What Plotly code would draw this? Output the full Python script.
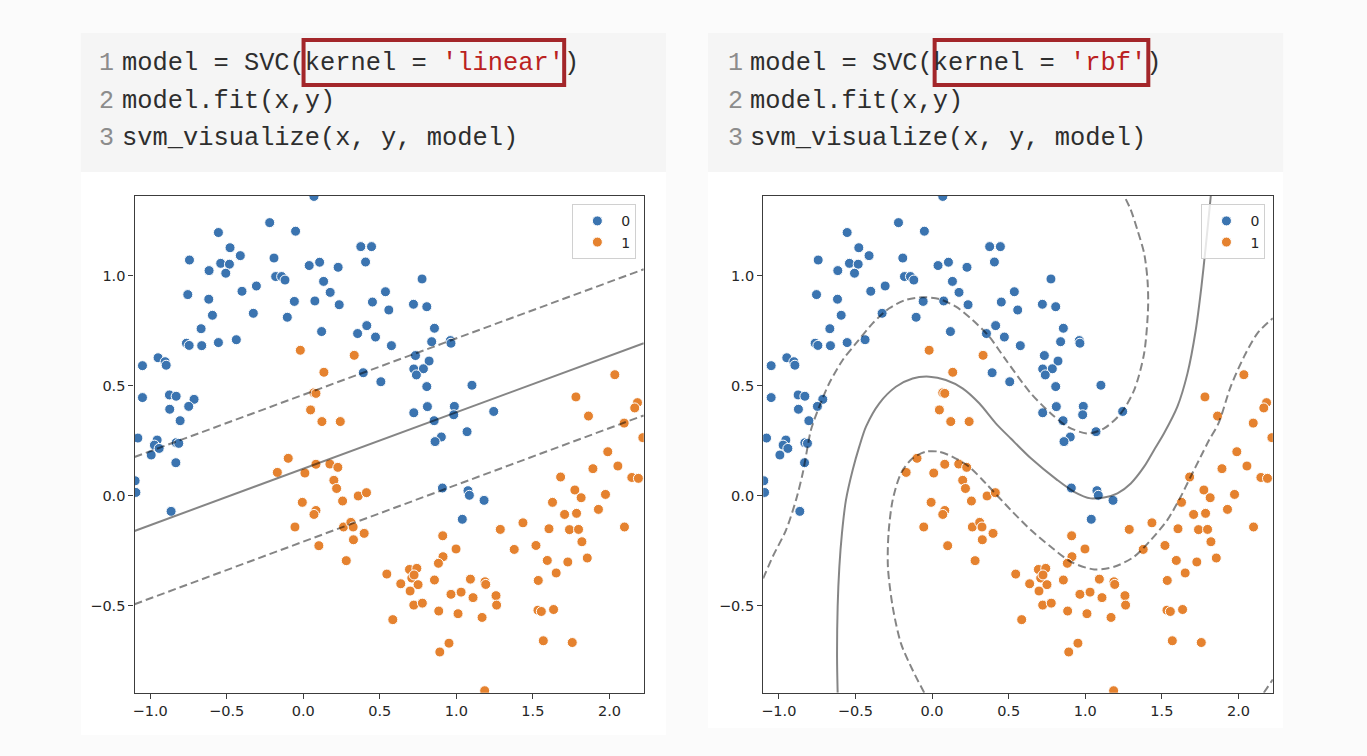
import plotly.graph_objects as go

W, H = 1367, 756

# ---------------- data ----------------
blue_x = [0.070, -0.219, -0.554, -0.050, -0.478, -0.411, -0.743, -0.191, -0.539, -0.482,
          -0.615, -0.506, -0.180, -0.141, -0.119, 0.039, 0.107, 0.228, 0.376, 0.133,
          0.176, 0.235, 0.076, -0.058, -0.104, -0.306, -0.400, -0.754, -0.617, -0.593,
          -0.326, -0.667, -0.437, -0.554, -0.663, -0.763, -0.745, 0.120, 0.355, -0.948,
          -1.050, -0.902, -0.895, -1.050, -0.874, -0.830, -0.713, -0.872, -0.748, -0.804,
          -1.080, -0.954,
          0.446, 0.407, 0.776, 0.537, 0.452, 0.720, 0.807, 0.559, 0.415, 0.857,
          0.472, 0.839, 0.961, 0.965, 0.576, 0.733, 0.822, 0.722, 0.785, 0.739,
          0.392, 0.507, 0.807, 1.102, 0.811, 0.722, 0.987, 0.983, 0.855, 1.244,
          1.070, 0.902,
          -0.972, -0.941, -0.993, -0.830, -0.813, -0.832, -1.098, -1.093, -0.863,
          0.861, 0.909, 1.076, 1.085, 1.181, 1.039]
blue_y = [1.360, 1.241, 1.196, 1.202, 1.127, 1.091, 1.071, 1.080, 1.056, 1.052,
          1.023, 1.011, 0.996, 0.996, 0.980, 1.046, 1.061, 1.038, 1.132, 0.974,
          0.924, 0.868, 0.885, 0.883, 0.811, 0.953, 0.929, 0.914, 0.893, 0.820,
          0.829, 0.759, 0.709, 0.696, 0.682, 0.693, 0.683, 0.746, 0.737, 0.627,
          0.591, 0.609, 0.593, 0.446, 0.458, 0.452, 0.438, 0.393, 0.406, 0.341,
          0.262, 0.253,
          1.132, 1.062, 0.985, 0.927, 0.880, 0.870, 0.859, 0.844, 0.773, 0.761,
          0.721, 0.700, 0.705, 0.693, 0.682, 0.637, 0.612, 0.576, 0.577, 0.549,
          0.559, 0.518, 0.496, 0.502, 0.405, 0.377, 0.406, 0.368, 0.341, 0.383,
          0.291, 0.267,
          0.230, 0.215, 0.185, 0.241, 0.238, 0.150, 0.068, 0.015, -0.071,
          0.246, 0.035, 0.023, 0.002, -0.021, -0.107]

orange_x = [-0.019, 0.333, 0.135, 0.070, 0.083, 0.048, 0.122, 0.242,
            2.035, 1.781, 1.863, 2.183, 2.165, 2.096, 2.218,
            -0.098, -0.169, 0.011, 0.083, 0.174, 0.226, 0.200, 0.218, 0.257, 0.359,
            -0.006, 0.083, 0.070, -0.054, 0.102, 0.263, 0.311, 0.326, 0.328, 0.281,
            1.989, 1.892, 2.055, 2.146, 2.189, 0.413, 0.398,
            1.681, 1.774, 1.815, 1.628, 1.974, 1.928, 1.707, 1.785, 1.435, 1.287,
            1.605, 1.739, 1.798, 2.098, 1.820, 1.520, 1.378, 1.594, 1.728, 1.855,
            1.652, 1.535,
            0.911, 0.998, 0.913, 0.883, 0.694, 0.742, 0.709, 0.724, 0.546, 0.637,
            0.750, 0.857, 1.092, 1.187, 1.192, 0.698, 0.965, 1.031, 1.109, 1.259,
            1.263, 0.722, 0.778, 0.885, 1.011, 1.168, 0.585, 1.533, 1.555, 1.635,
            1.568, 1.757, 0.952, 0.892, 1.185]
orange_y = [0.661, 0.638, 0.561, 0.468, 0.465, 0.390, 0.337, 0.337,
            0.550, 0.449, 0.362, 0.423, 0.399, 0.330, 0.264,
            0.170, 0.106, 0.103, 0.143, 0.144, 0.129, 0.070, 0.033, -0.024, -0.001,
            -0.030, -0.067, -0.085, -0.142, -0.227, -0.142, -0.121, -0.142, -0.200, -0.295,
            0.200, 0.123, 0.135, 0.083, 0.079, 0.014, -0.171,
            0.085, 0.026, -0.009, -0.030, 0.006, -0.062, -0.085, -0.080, -0.123, -0.153,
            -0.150, -0.154, -0.153, -0.142, -0.209, -0.226, -0.244, -0.294, -0.301, -0.283,
            -0.351, -0.385,
            -0.182, -0.242, -0.277, -0.307, -0.335, -0.330, -0.374, -0.360, -0.356, -0.400,
            -0.404, -0.383, -0.379, -0.391, -0.403, -0.433, -0.448, -0.438, -0.463, -0.454,
            -0.497, -0.497, -0.488, -0.524, -0.536, -0.553, -0.563, -0.520, -0.526, -0.517,
            -0.659, -0.667, -0.670, -0.710, -0.886]

class_labels = ["0", "1"]

x_range = [-1.102, 2.224]
y_range = [-0.895, 1.362]
x_ticks = [-1.0, -0.5, 0.0, 0.5, 1.0, 1.5, 2.0]
x_tick_labels = ["\u22121.0", "\u22120.5", "0.0", "0.5", "1.0", "1.5", "2.0"]
y_ticks = [-0.5, 0.0, 0.5, 1.0]
y_tick_labels = ["\u22120.5", "0.0", "0.5", "1.0"]

# linear kernel: decision line and margins (endpoints at axis edges)
lin_x = [-1.102, 2.224]
lin_mid_y = [-0.160, 0.693]
lin_up_y = [0.176, 1.029]
lin_lo_y = [-0.493, 0.365]

# rbf kernel: contour levels
rbf_mid_x = [-0.616, -0.620, -0.616, -0.605, -0.588, -0.562, -0.518, -0.475, -0.431, -0.344,
             -0.236, -0.127, -0.018, 0.090, 0.199, 0.308, 0.416, 0.514, 0.645, 0.818,
             0.927, 1.036, 1.123, 1.210, 1.297, 1.384, 1.449, 1.514, 1.601, 1.667,
             1.721, 1.758, 1.786, 1.808, 1.819]
rbf_mid_y = [-0.895, -0.732, -0.504, -0.323, -0.171, -0.020, 0.117, 0.223, 0.314, 0.420,
             0.495, 0.533, 0.541, 0.526, 0.488, 0.420, 0.329, 0.260, 0.170, 0.071,
             0.018, -0.012, -0.008, 0.011, 0.056, 0.132, 0.208, 0.284, 0.405, 0.556,
             0.753, 0.950, 1.132, 1.283, 1.362]

rbf_up_x = [-1.102, -1.040, -0.953, -0.888, -0.844, -0.812, -0.790, -0.736, -0.671, -0.583,
            -0.497, -0.388, -0.279, -0.171, -0.062, 0.047, 0.156, 0.264, 0.373, 0.482,
            0.645, 0.775, 0.884, 1.014, 1.123, 1.232, 1.319, 1.384, 1.410, 1.406,
            1.384, 1.340, 1.297, 1.254]
rbf_up_y = [-0.376, -0.277, -0.156, -0.020, 0.102, 0.223, 0.300, 0.405, 0.511, 0.617,
            0.692, 0.783, 0.852, 0.890, 0.902, 0.894, 0.859, 0.799, 0.723, 0.617,
            0.465, 0.374, 0.314, 0.283, 0.306, 0.374, 0.480, 0.647, 0.859, 0.980,
            1.102, 1.208, 1.299, 1.362]

rbf_lo_x = [-0.051, -0.127, -0.203, -0.257, -0.288, -0.284, -0.257, -0.203, -0.127, -0.040,
            0.047, 0.134, 0.242, 0.351, 0.514, 0.645, 0.775, 0.906, 1.058, 1.188,
            1.319, 1.428, 1.536, 1.623, 1.688, 1.753, 1.808, 1.870, 1.949, 2.036,
            2.123, 2.224]
rbf_lo_y = [-0.895, -0.792, -0.671, -0.504, -0.323, -0.171, -0.020, 0.102, 0.170, 0.200,
            0.200, 0.177, 0.132, 0.056, -0.065, -0.156, -0.232, -0.300, -0.335, -0.323,
            -0.277, -0.201, -0.110, -0.004, 0.087, 0.177, 0.253, 0.330, 0.496, 0.632,
            0.738, 0.807]

rbf_corner_x = [2.165, 2.224]
rbf_corner_y = [-0.895, -0.835]

code_left = ["model = SVC(kernel = <span style='color:#ba2121'>'linear'</span>)",
             "model.fit(x,y)",
             "svm_visualize(x, y, model)"]
code_right = ["model = SVC(kernel = <span style='color:#ba2121'>'rbf'</span>)",
              "model.fit(x,y)",
              "svm_visualize(x, y, model)"]
line_numbers = ["1", "2", "3"]

# ---------------- styling ----------------
BLUE = "#3b74b0"
ORANGE = "#e5822f"
LINE = "rgba(0,0,0,0.48)"
TICKFONT = dict(family="DejaVu Sans", size=14.5, color="#262626")


def PX(px):
    return px / W


def PY(py):
    return 1 - py / H


fig = go.Figure()

for xa, ya, lg in [("x", "y", "legend"), ("x2", "y2", "legend2")]:
    fig.add_trace(go.Scatter(x=blue_x, y=blue_y, mode="markers", name=class_labels[0],
                             xaxis=xa, yaxis=ya, legend=lg,
                             marker=dict(color=BLUE, size=10, line=dict(color="white", width=1))))
    fig.add_trace(go.Scatter(x=orange_x, y=orange_y, mode="markers", name=class_labels[1],
                             xaxis=xa, yaxis=ya, legend=lg,
                             marker=dict(color=ORANGE, size=10, line=dict(color="white", width=1))))

# linear kernel lines
for yy, dash in [(lin_up_y, "8px,4px"), (lin_mid_y, "solid"), (lin_lo_y, "8px,4px")]:
    fig.add_trace(go.Scatter(x=lin_x, y=yy, mode="lines", showlegend=False, hoverinfo="skip",
                             xaxis="x", yaxis="y", line=dict(color=LINE, width=2, dash=dash)))

# rbf kernel contours
for xx, yy, dash in [(rbf_up_x, rbf_up_y, "8px,4px"), (rbf_mid_x, rbf_mid_y, "solid"),
                     (rbf_lo_x, rbf_lo_y, "8px,4px"), (rbf_corner_x, rbf_corner_y, "8px,4px")]:
    fig.add_trace(go.Scatter(x=xx, y=yy, mode="lines", showlegend=False, hoverinfo="skip",
                             xaxis="x2", yaxis="y2",
                             line=dict(color=LINE, width=2, dash=dash, shape="spline", smoothing=0.8)))

axis_common = dict(showgrid=False, zeroline=False, showline=True, mirror=True,
                   linecolor="#3c3c3c", linewidth=1.3, ticks="outside", ticklen=5,
                   tickwidth=1.2, tickcolor="#3c3c3c", tickfont=TICKFONT)

x_dom_l = [PX(132.7), PX(642.7)]
x_dom_r = [PX(762.3), PX(1272.7)]
y_dom = [PY(692.7), PY(196)]

legend_common = dict(xanchor="right", yanchor="top", bgcolor="rgba(255,255,255,0.8)",
                     bordercolor="#d0d0d0", borderwidth=1, tracegroupgap=0, itemwidth=38,
                     font=dict(family="DejaVu Sans", size=14, color="#262626"))

fig.update_layout(
    width=W, height=H,
    margin=dict(l=0, r=0, t=0, b=0),
    paper_bgcolor="#fbfbfb",
    plot_bgcolor="white",
    xaxis=dict(domain=x_dom_l, range=x_range, tickvals=x_ticks, ticktext=x_tick_labels,
               anchor="y", **axis_common),
    yaxis=dict(domain=y_dom, range=y_range, tickvals=y_ticks, ticktext=y_tick_labels,
               anchor="x", **axis_common),
    xaxis2=dict(domain=x_dom_r, range=x_range, tickvals=x_ticks, ticktext=x_tick_labels,
                anchor="y2", **axis_common),
    yaxis2=dict(domain=y_dom, range=y_range, tickvals=y_ticks, ticktext=y_tick_labels,
                anchor="x2", **axis_common),
    legend=dict(x=PX(635.3), y=PY(204.3), **legend_common),
    legend2=dict(x=PX(1265.3), y=PY(204.3), **legend_common),
    showlegend=True,
)

shapes = []
for x0, x1, ybot in [(79, 665, 735), (707, 1283, 728)]:
    shapes.append(dict(type="rect", xref="paper", yref="paper", layer="below",
                       x0=PX(x0), x1=PX(x1), y0=PY(172), y1=PY(33),
                       fillcolor="#f5f5f5", line=dict(width=0)))
    shapes.append(dict(type="rect", xref="paper", yref="paper", layer="below",
                       x0=PX(x0), x1=PX(x1), y0=PY(ybot), y1=PY(172),
                       fillcolor="#ffffff", line=dict(width=0)))
for x0, x1 in [(302, 563), (934, 1148)]:
    shapes.append(dict(type="rect", xref="paper", yref="paper", layer="above",
                       x0=PX(x0), x1=PX(x1), y0=PY(85), y1=PY(40),
                       fillcolor="rgba(0,0,0,0)", line=dict(color="#a3262a", width=4)))
fig.update_layout(shapes=shapes)

annotations = []
line_y = [63, 101, 139]
for num_x, code_x, lines in [(95, 118, code_left), (725, 747, code_right)]:
    for i, txt in enumerate(lines):
        annotations.append(dict(xref="paper", yref="paper", x=PX(num_x), y=PY(line_y[i]),
                                xanchor="left", yanchor="middle", showarrow=False,
                                text=line_numbers[i],
                                font=dict(family="Liberation Mono", size=25, color="#8c8c8c")))
        annotations.append(dict(xref="paper", yref="paper", x=PX(code_x), y=PY(line_y[i]),
                                xanchor="left", yanchor="middle", showarrow=False,
                                text=txt,
                                font=dict(family="Liberation Mono", size=25.4, color="#2e2e2e")))
fig.update_layout(annotations=annotations)

fig.write_html("out.html",
               config={"displayModeBar": False},
               post_script="document.body.style.margin='0';document.body.style.overflow='hidden';")
